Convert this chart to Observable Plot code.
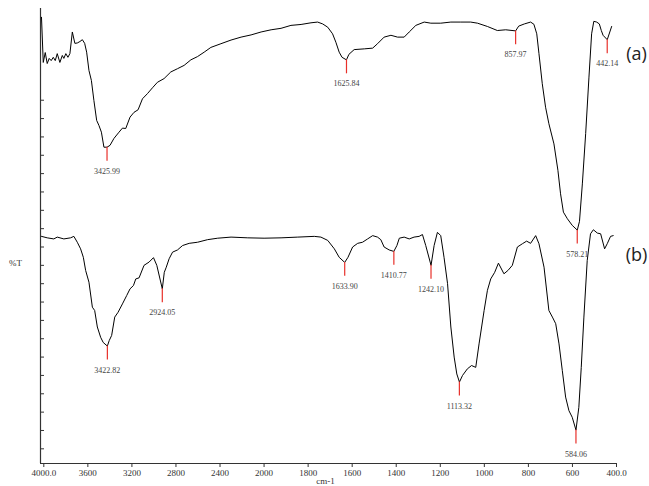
<!DOCTYPE html>
<html><head><meta charset="utf-8">
<script src="https://cdn.jsdelivr.net/npm/d3@7"></script>
<script src="https://cdn.jsdelivr.net/npm/@observablehq/plot@0.6"></script>
<style>html,body{margin:0;padding:0;background:#fff} svg{display:block}</style>
</head><body><div id="chart"></div>
<script>
// FTIR spectra: [wavenumber (cm-1), %T (arbitrary offset units)]
const seriesA = [[4021,122.6],[4005,110.3],[3987,113.0],[3969,110.0],[3951,111.4],[3933,110.8],[3914,111.7],[3896,110.8],[3878,112.7],[3854,110.3],[3832,112.2],[3818,111.4],[3800,112.7],[3781,111.7],[3763,112.7],[3741,118.6],[3718,115.5],[3696,115.6],[3672,116.0],[3650,116.5],[3629,115.5],[3611,113.1],[3590,108.1],[3568,105.4],[3545,99.9],[3520,94.5],[3499,93.1],[3477,91.3],[3454,87.2],[3426,87.2],[3399,87.7],[3363,89.6],[3317,91.3],[3286,92.4],[3256,92.3],[3217,95.4],[3181,96.7],[3144,97.4],[3104,100.4],[3059,101.8],[3013,103.4],[2968,104.9],[2908,105.9],[2847,107.7],[2786,108.6],[2726,109.5],[2665,111.0],[2604,111.9],[2544,113.1],[2483,114.4],[2392,115.4],[2300,116.4],[2209,117.2],[2118,117.8],[2027,118.6],[1968,119.2],[1923,119.6],[1878,120.4],[1832,120.65],[1787,121.1],[1757,121.3],[1734,120.8],[1711,119.9],[1689,118.1],[1674,115.8],[1659,113.1],[1646,111.7],[1626,111.0],[1615,112.5],[1591,113.8],[1545,114.0],[1507,114.2],[1485,115.4],[1455,117.2],[1424,117.7],[1394,117.2],[1364,117.2],[1341,118.6],[1311,120.4],[1273,121.3],[1243,121.0],[1198,121.0],[1152,121.3],[1107,121.3],[1062,121.3],[1031,121.0],[986,120.1],[941,119.0],[903,119.2],[858,118.9],[844,120.2],[818,120.8],[790,121.3],[775,120.7],[762,118.1],[752,112.7],[737,104.5],[722,98.1],[707,93.6],[684,88.1],[666,80.9],[654,74.5],[641,69.5],[623,67.7],[601,65.9],[578,64.6],[568,67.0],[555,77.2],[540,90.9],[525,106.3],[513,118.1],[503,121.5],[490,121.3],[478,120.8],[469,119.0],[461,117.7],[442,116.5],[422,120.1]];

const seriesB = [[4021,62.9],[3969,62.5],[3909,62.2],[3878,62.7],[3818,62.2],[3757,62.5],[3727,62.9],[3696,61.3],[3666,59.5],[3641,57.2],[3620,53.6],[3590,50.4],[3559,43.6],[3538,42.7],[3514,38.2],[3484,35.4],[3461,34.0],[3423,33.0],[3406,34.5],[3384,35.9],[3356,40.9],[3326,42.2],[3286,44.5],[3247,46.8],[3217,48.6],[3186,49.5],[3165,51.3],[3135,51.6],[3090,55.0],[3044,55.9],[3004,57.1],[2974,55.0],[2924,48.6],[2906,53.1],[2888,54.5],[2862,56.8],[2831,58.6],[2786,59.2],[2740,60.4],[2680,61.0],[2604,61.3],[2513,62.0],[2421,62.4],[2300,62.7],[2148,62.5],[2000,62.4],[1923,62.5],[1847,62.7],[1772,62.9],[1742,62.7],[1711,61.8],[1681,59.5],[1659,57.2],[1634,55.8],[1619,57.2],[1598,60.0],[1575,61.0],[1553,61.3],[1530,62.2],[1507,63.1],[1485,62.7],[1470,62.0],[1455,60.0],[1432,59.2],[1411,58.8],[1397,60.4],[1386,62.4],[1364,62.7],[1341,62.2],[1319,62.7],[1296,62.9],[1281,63.4],[1266,60.4],[1242,55.0],[1228,60.4],[1213,64.0],[1198,63.1],[1183,57.2],[1167,50.0],[1152,38.2],[1137,30.0],[1125,25.4],[1113,23.2],[1099,25.0],[1077,26.8],[1058,27.7],[1039,27.2],[1024,33.6],[1001,42.7],[986,48.2],[971,51.3],[953,53.1],[936,55.6],[911,52.7],[893,53.6],[873,55.0],[850,60.0],[827,60.9],[808,61.6],[790,61.0],[767,63.1],[752,60.9],[729,54.5],[707,42.7],[691,40.9],[676,39.1],[661,33.6],[646,26.3],[631,19.1],[616,15.4],[601,13.6],[584,10.1],[571,16.3],[560,27.2],[548,40.9],[533,56.3],[518,63.6],[505,64.7],[487,63.8],[472,63.6],[454,59.5],[442,60.9],[427,62.9],[415,63.1]];

const peaksA = [3425.99, 1625.84, 857.97, 578.21, 442.14];
const peakTA = [87.2, 111.0, 118.9, 64.6, 116.5];
const peaksB = [3422.82, 2924.05, 1633.90, 1410.77, 1242.10, 1113.32, 584.06];
const peakTB = [33.0, 48.6, 55.8, 58.8, 55.0, 23.2, 10.1];

const xTicks = [4000, 3600, 3200, 2800, 2400, 2000, 1800, 1600, 1400, 1200, 1000, 800, 600, 400];
const yTicks = [5,10,15,20,25,30,35,40,45,50,55,60,65,70,75,80,85,90,95,100];
const seriesLabels = ["(a)", "(b)"];
const seriesLabelT = [112.5, 57.7];

const peaks = [
  ...peaksA.map((wn, i) => ({wn, t: peakTA[i]})),
  ...peaksB.map((wn, i) => ({wn, t: peakTB[i]}))
];
const labels = seriesLabels.map((text, i) => ({text, t: seriesLabelT[i]}));
const markLen = 3.8;
const fmtX = d => (d === 4000 || d === 400) ? d.toFixed(1) : String(d);
const serif = "'Liberation Serif', 'Times New Roman', serif";
// FTIR axis: scale compresses by 2 above 2000 cm-1
const splitAxis = wn => wn > 2000 ? 2000 + (wn - 2000) / 2 : wn;

const chart = Plot.plot({
  width: 649, height: 486,
  marginTop: 8, marginBottom: 23, marginLeft: 40, marginRight: 33,
  style: {fontFamily: serif, fontSize: "9px", background: "#fff", color: "#222"},
  x: {type: "linear", transform: splitAxis, domain: [splitAxis(4030), 400]},
  y: {domain: [1, 125]},
  marks: [
    Plot.ruleX([4030], {stroke: "#333", strokeWidth: 1.2}),
    Plot.ruleY([1], {stroke: "#333", strokeWidth: 1.2}),
    Plot.axisX(xTicks, {anchor: "bottom", tickSize: 4, tickPadding: 2, tickFormat: fmtX, fontSize: 9, color: "#333", label: null}),
    Plot.axisY(yTicks, {anchor: "left", tickSize: -4, tickFormat: () => "", label: null, color: "#333"}),
    Plot.line(seriesA, {stroke: "#000", strokeWidth: 1}),
    Plot.line(seriesB, {stroke: "#000", strokeWidth: 1}),
    Plot.ruleX(peaks, {x: "wn", y1: "t", y2: d => d.t - markLen, stroke: "#e8302a", strokeWidth: 1.2}),
    Plot.text(peaks, {x: "wn", y: "t", dy: 24, text: d => d.wn.toFixed(2), fontSize: 8, fill: "#444"}),
    Plot.text(labels, {x: 400, y: "t", dx: 20, text: "text", fontSize: 18, fontFamily: "'Open Sans', sans-serif", fill: "#222"}),
    Plot.text(["%T"], {x: 4030, y: 55.5, dx: -25, fontSize: 9, fill: "#333"}),
    Plot.text(["cm-1"], {frameAnchor: "bottom", dy: 20, dx: -3, fontSize: 9, fill: "#333"})
  ]
});
document.getElementById("chart").appendChild(chart);
</script>
</body></html>
